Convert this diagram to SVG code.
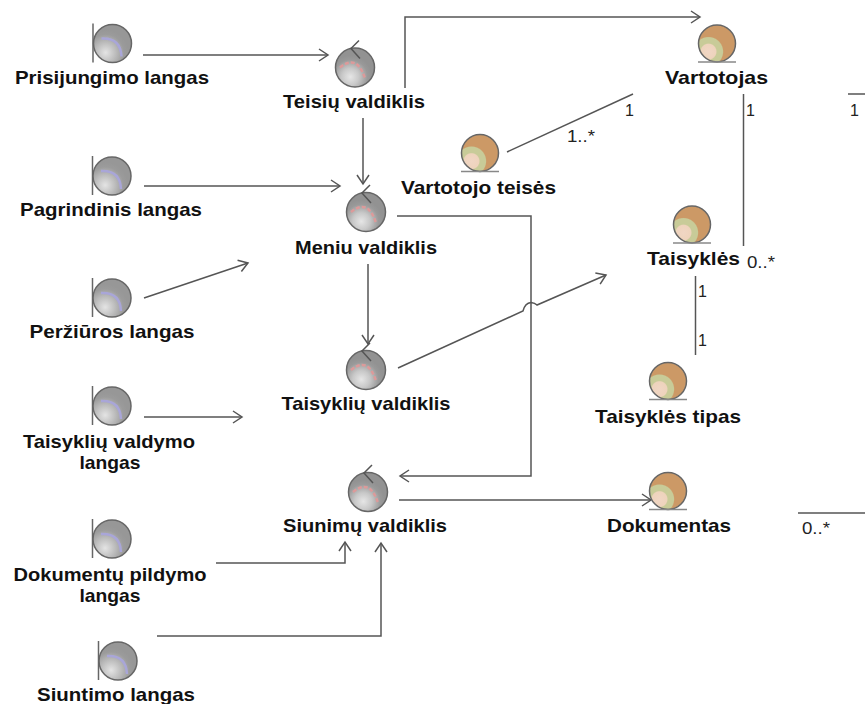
<svg xmlns="http://www.w3.org/2000/svg" width="865" height="704" viewBox="0 0 865 704">
<style>
.l{font:bold 18.500px "Liberation Sans",Arial,sans-serif;fill:#111;text-anchor:middle}
.m{font:16px "Liberation Sans",Arial,sans-serif;fill:#222}
.c{fill:none;stroke:#555;stroke-width:1.5}
.a{marker-end:url(#arr)}
.ico{stroke:#666;stroke-width:1.5}
</style>
<defs>
<marker id="arr" markerUnits="userSpaceOnUse" markerWidth="12" markerHeight="14" refX="10" refY="7" orient="auto"><path d="M1 1L10 7L1 13" fill="none" stroke="#555" stroke-width="1.5"/></marker>
<radialGradient id="g" cx=".32" cy=".74" r=".6"><stop offset="0" stop-color="#e4e4e4"/><stop offset=".4" stop-color="#c0c0c0"/><stop offset=".8" stop-color="#9b9b9b"/><stop offset="1" stop-color="#979797"/></radialGradient>
<radialGradient id="gc" cx=".38" cy=".74" r=".55"><stop offset="0" stop-color="#e6e6e6"/><stop offset=".4" stop-color="#c8c8c8"/><stop offset=".8" stop-color="#999"/><stop offset="1" stop-color="#929292"/></radialGradient>
<radialGradient id="e" cx=".27" cy=".72" r="1"><stop offset="0" stop-color="#f0d6c4"/><stop offset=".2" stop-color="#eed3bc"/><stop offset=".23" stop-color="#c8cb98"/><stop offset=".38" stop-color="#c8cb98"/><stop offset=".41" stop-color="#cc9966"/><stop offset="1" stop-color="#cc9966"/></radialGradient>
<g id="boundary"><path class="ico" d="M-19.500 -20V19" fill="none"/><circle r="19" fill="url(#g)" class="ico"/><path d="M-11 -5Q8 -6 9 13" fill="none" stroke="#a9a6d8" stroke-width="2.500"/></g>
<g id="control"><circle r="19.500" fill="url(#gc)" class="ico"/><path d="M-15 0Q2 -14 10 11" fill="none" stroke="#dd9a9a" stroke-width="2.500" stroke-dasharray="4 2"/><path d="M4 -27L-4 -19L5 -9" fill="none" stroke="#555" stroke-width="1.500"/></g>
<g id="entity"><circle r="18.500" fill="url(#e)" class="ico"/><path d="M-19 18.500H19" stroke="#888" stroke-width="1.500"/></g>
</defs>
<rect width="865" height="704" fill="#fff"/>
<g id="connectors">
<path class="c a" d="M143 55H328"/>
<path class="c a" d="M405 88V17H700"/>
<path class="c a" d="M363 118V184"/>
<path class="c a" d="M144 186H340"/>
<path class="c a" d="M144 298L248 263"/>
<path class="c a" d="M368 264V344"/>
<path class="c a" d="M144 417H242"/>
<path class="c a" d="M397 216H531V476H400"/>
<path class="c a" d="M398 368L523 311Q525 303 531 302.500Q535 303 537 305L606 275"/>
<path class="c a" d="M399 500H651"/>
<path class="c a" d="M216 563H345V542"/>
<path class="c a" d="M157 636H381V543"/>
<path class="c" d="M507 152L633 94"/>
<path class="c" d="M743.500 94V246"/>
<path class="c" d="M695.500 276V355"/>
<path class="c" d="M848 94H865"/>
<path class="c" d="M798 513H865"/>
</g>
<g id="n1"><use href="#boundary" x="112.500" y="43.500"/><text class="l" x="112" y="84" textLength="194" lengthAdjust="spacingAndGlyphs">Prisijungimo langas</text></g>
<g id="n2"><use href="#boundary" x="112" y="176"/><text class="l" x="111" y="216" textLength="182" lengthAdjust="spacingAndGlyphs">Pagrindinis langas</text></g>
<g id="n3"><use href="#boundary" x="112" y="298"/><text class="l" x="112" y="338" textLength="165" lengthAdjust="spacingAndGlyphs">Peržiūros langas</text></g>
<g id="n4"><use href="#boundary" x="112" y="406"/><text class="l" x="109" y="448" textLength="172" lengthAdjust="spacingAndGlyphs">Taisyklių valdymo</text><text class="l" x="110" y="469" textLength="61" lengthAdjust="spacingAndGlyphs">langas</text></g>
<g id="n5"><use href="#boundary" x="112" y="539"/><text class="l" x="110" y="581" textLength="193" lengthAdjust="spacingAndGlyphs">Dokumentų pildymo</text><text class="l" x="110" y="602" textLength="61" lengthAdjust="spacingAndGlyphs">langas</text></g>
<g id="n6"><use href="#boundary" x="118" y="661"/><text class="l" x="116" y="701" textLength="158" lengthAdjust="spacingAndGlyphs">Siuntimo langas</text></g>
<g id="c1"><use href="#control" x="355" y="67.500"/><text class="l" x="354" y="108" textLength="142" lengthAdjust="spacingAndGlyphs">Teisių valdiklis</text></g>
<g id="c2"><use href="#control" x="366" y="212"/><text class="l" x="366" y="254" textLength="142" lengthAdjust="spacingAndGlyphs">Meniu valdiklis</text></g>
<g id="c3"><use href="#control" x="366" y="370"/><text class="l" x="366" y="410" textLength="169" lengthAdjust="spacingAndGlyphs">Taisyklių valdiklis</text></g>
<g id="c4"><use href="#control" x="368" y="492"/><text class="l" x="365" y="532" textLength="164" lengthAdjust="spacingAndGlyphs">Siunimų valdiklis</text></g>
<g id="e1"><use href="#entity" x="717" y="43.500"/><text class="l" x="716.500" y="84" textLength="103" lengthAdjust="spacingAndGlyphs">Vartotojas</text></g>
<g id="e2"><use href="#entity" x="480" y="153"/><text class="l" x="478.500" y="194" textLength="155" lengthAdjust="spacingAndGlyphs">Vartotojo teisės</text></g>
<g id="e3"><use href="#entity" x="692" y="224.500"/><text class="l" x="693.500" y="265" textLength="93" lengthAdjust="spacingAndGlyphs">Taisyklės</text></g>
<g id="e4"><use href="#entity" x="668" y="381"/><text class="l" x="668" y="423" textLength="146" lengthAdjust="spacingAndGlyphs">Taisyklės tipas</text></g>
<g id="e5"><use href="#entity" x="668" y="491"/><text class="l" x="669" y="532" textLength="124" lengthAdjust="spacingAndGlyphs">Dokumentas</text></g>
<g id="labels">
<text class="m" x="625" y="116">1</text>
<text class="m" x="567" y="142" textLength="28" lengthAdjust="spacingAndGlyphs">1..*</text>
<text class="m" x="746" y="116">1</text>
<text class="m" x="850" y="116">1</text>
<text class="m" x="747" y="268" textLength="28" lengthAdjust="spacingAndGlyphs">0..*</text>
<text class="m" x="698" y="297">1</text>
<text class="m" x="698" y="346">1</text>
<text class="m" x="802" y="534" textLength="28" lengthAdjust="spacingAndGlyphs">0..*</text>
</g>
</svg>
